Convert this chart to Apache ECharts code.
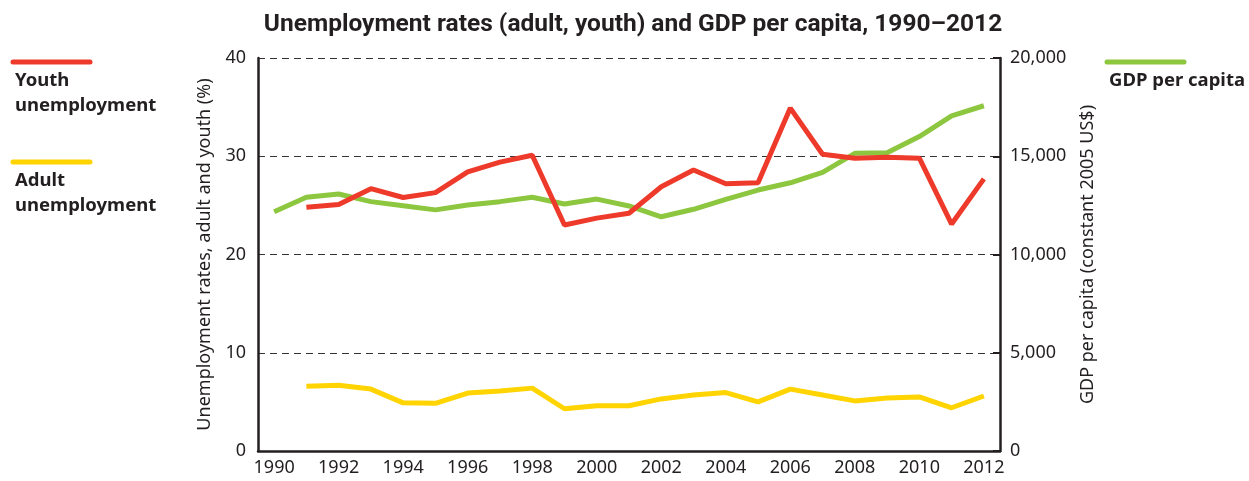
<!DOCTYPE html>
<html>
<head>
<meta charset="utf-8">
<script src="https://cdn.jsdelivr.net/npm/echarts@6/dist/echarts.min.js"></script>
<style>
  html, body { margin: 0; padding: 0; background: #fff; }
  #chart { width: 1249px; height: 481px; }
</style>
</head>
<body>
<div id="chart"></div>
<script>
// data
var years = ['1990','1991','1992','1993','1994','1995','1996','1997','1998','1999','2000',
             '2001','2002','2003','2004','2005','2006','2007','2008','2009','2010','2011','2012'];
var xLabels = years.map(function (y, i) { return i % 2 === 0 ? y : ''; });

var youth = [null, 24.8, 25.1, 26.7, 25.8, 26.3, 28.4, 29.4, 30.1, 23.0, 23.7,
             24.2, 26.9, 28.6, 27.2, 27.3, 34.9, 30.2, 29.8, 29.9, 29.8, 23.1, 27.7];
var adult = [null, 6.6, 6.7, 6.3, 4.9, 4.85, 5.9, 6.1, 6.4, 4.3, 4.6,
             4.6, 5.3, 5.7, 5.95, 5.0, 6.3, 5.7, 5.1, 5.4, 5.5, 4.4, 5.6];
var gdp = [12180, 12910, 13080, 12690, 12480, 12270, 12520, 12690, 12910, 12570, 12820,
           12470, 11920, 12300, 12810, 13280, 13650, 14180, 15150, 15180, 16000, 17050, 17570];

var leftTicks = [0, 10, 20, 30, 40];
var rightTicks = [0, 5000, 10000, 15000, 20000];

var myChart = echarts.init(document.getElementById('chart'));

var txt = '#231f20';
var fontFam = '"Noto Sans", sans-serif';

function legendItem(x, y, color, lines) {
    var items = [{
        type: 'line',
        shape: { x1: x, y1: y, x2: x + 77, y2: y },
        style: { stroke: color, lineWidth: 5, lineCap: 'round' }
    }];
    lines.forEach(function (t, i) {
        items.push({
            type: 'text',
            x: x + 2,
            y: y + 9 + i * 25,
            style: { text: t, fill: txt, font: 'bold 18.5px ' + fontFam }
        });
    });
    return items;
}

var option = {
    animation: false,
    title: {
        text: 'Unemployment rates (adult, youth) and GDP per capita, 1990\u20132012',
        left: 628,
        textAlign: 'center',
        top: 7,
        textStyle: { color: txt, fontSize: 24.5, fontWeight: 'bold', fontFamily: 'Roboto, sans-serif' }
    },
    grid: { left: 258, right: 249, top: 58, bottom: 30 },
    xAxis: {
        type: 'category',
        data: xLabels,
        boundaryGap: true,
        axisLine: { lineStyle: { color: '#231f20', width: 2.5 } },
        axisTick: { inside: true, length: 9, alignWithLabel: true, interval: 0,
                    lineStyle: { color: '#231f20', width: 2 } },
        axisLabel: { interval: 0, color: txt, fontSize: 18, fontFamily: fontFam, margin: 8 }
    },
    yAxis: [{
        type: 'value',
        min: 0, max: 40, interval: 10,
        name: 'Unemployment rates, adult and youth (%)',
        nameLocation: 'middle',
        nameGap: 44,
        nameTextStyle: { color: txt, fontSize: 18, fontFamily: fontFam },
        axisLine: { show: true, lineStyle: { color: '#231f20', width: 2.5 } },
        axisTick: { show: false },
        axisLabel: { color: txt, fontSize: 18, fontFamily: fontFam, margin: 12,
                     formatter: function (v) { return leftTicks.indexOf(v) >= 0 ? String(v) : ''; } },
        splitLine: { show: true, lineStyle: { color: '#333', width: 1, type: [7, 5] } }
    }, {
        type: 'value',
        min: 0, max: 20000, interval: 5000,
        position: 'right',
        name: 'GDP per capita (constant 2005 US$)',
        nameLocation: 'middle',
        nameGap: 79,
        nameRotate: 90,
        nameTextStyle: { color: txt, fontSize: 18, fontFamily: fontFam },
        axisLine: { show: true, lineStyle: { color: '#231f20', width: 2.5 } },
        axisTick: { show: true, inside: true, length: 7, lineStyle: { color: '#231f20', width: 2 } },
        axisLabel: { color: txt, fontSize: 18, fontFamily: fontFam, margin: 10,
                     formatter: function (v) {
                         return rightTicks.indexOf(v) >= 0 ? v.toLocaleString('en-US') : '';
                     } },
        splitLine: { show: false }
    }],
    series: [{
        name: 'Youth unemployment',
        type: 'line',
        yAxisIndex: 0,
        data: youth,
        symbol: 'none',
        lineStyle: { color: '#ee3a2a', width: 5 },
        z: 3
    }, {
        name: 'Adult unemployment',
        type: 'line',
        yAxisIndex: 0,
        data: adult,
        symbol: 'none',
        lineStyle: { color: '#ffd400', width: 5 },
        z: 3
    }, {
        name: 'GDP per capita',
        type: 'line',
        yAxisIndex: 1,
        data: gdp,
        symbol: 'none',
        lineStyle: { color: '#8dc63f', width: 5 },
        z: 2
    }],
    graphic: []
        .concat(legendItem(13, 62, '#ee3a2a', ['Youth', 'unemployment']))
        .concat(legendItem(13, 162, '#ffd400', ['Adult', 'unemployment']))
        .concat(legendItem(1107, 62, '#8dc63f', ['GDP per capita']))
};

myChart.setOption(option);
</script>
</body>
</html>
